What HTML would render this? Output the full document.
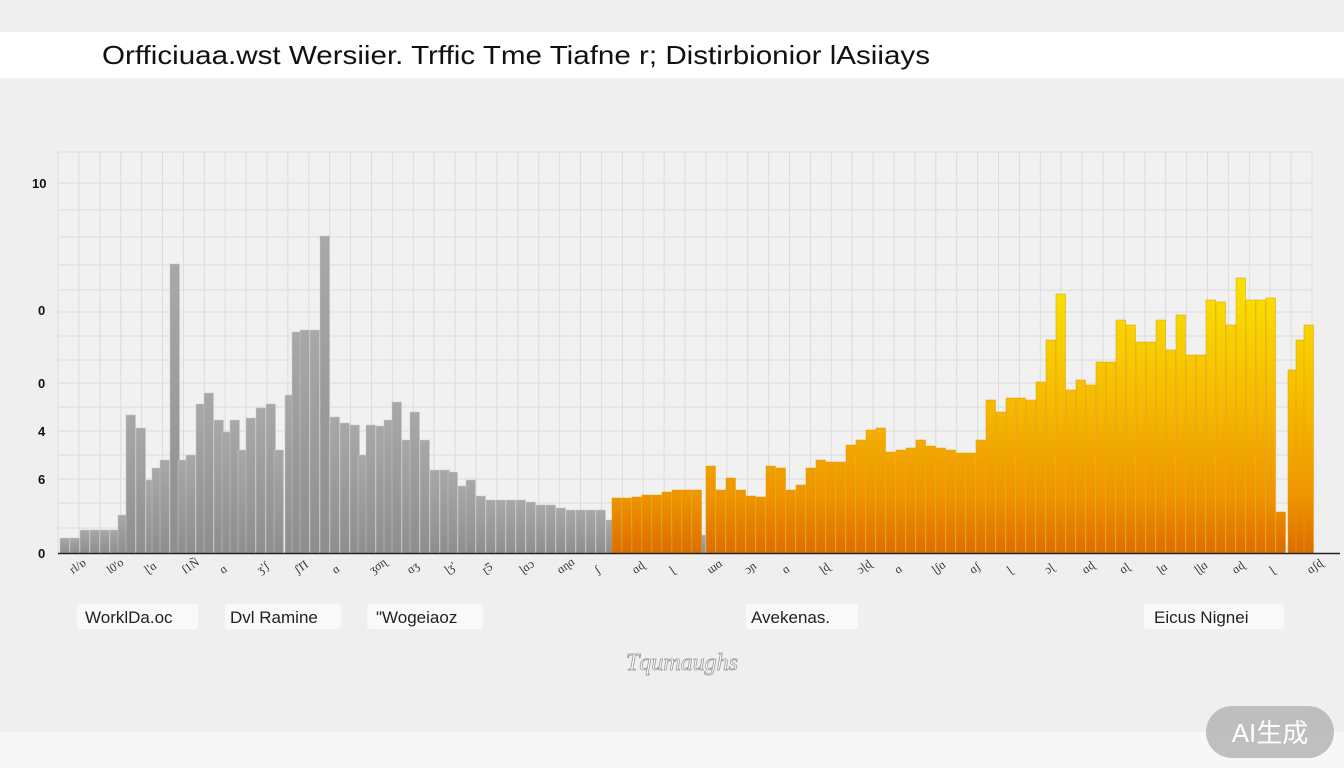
<!DOCTYPE html>
<html><head><meta charset="utf-8"><style>
html,body{margin:0;padding:0;width:1344px;height:768px;overflow:hidden;background:#efefef;font-family:"Liberation Sans",sans-serif}
</style></head><body>
<svg id="s" width="1344" height="768" xmlns="http://www.w3.org/2000/svg">
<defs>
<linearGradient id="g" x1="0" y1="0" x2="0" y2="1"><stop offset="0" stop-color="#a8a8a8"/><stop offset="1" stop-color="#8e8e8e"/></linearGradient>
<linearGradient id="o" gradientUnits="userSpaceOnUse" x1="0" y1="290" x2="0" y2="553"><stop offset="0" stop-color="#f8e000"/><stop offset="0.45" stop-color="#f6b800"/><stop offset="0.8" stop-color="#ee9200"/><stop offset="1" stop-color="#dc6c00"/></linearGradient>
</defs>
<rect x="0" y="0" width="1344" height="768" fill="#efefef"/>
<rect x="0" y="32" width="1344" height="46" fill="#ffffff"/>
<rect x="0" y="732" width="1344" height="36" fill="#f7f7f7"/>
<text x="102" y="64" font-size="26" fill="#111" textLength="828" lengthAdjust="spacingAndGlyphs">Orfficiuaa.wst Wersiier. Trffic Tme Tiafne r; Distirbionior lAsiiays</text>
<rect x="58" y="152" width="1255" height="401" fill="#f1f1f1"/>
<g id="grid" stroke="#dcdcdc" stroke-width="1"></g>
<g font-size="13" font-weight="bold" fill="#111">
<text x="32" y="188">10</text><text x="38" y="315">0</text><text x="38" y="388">0</text><text x="38" y="436">4</text><text x="38" y="484">6</text><text x="38" y="558">0</text>
</g>
<g id="bars"></g>
<line x1="58" y1="553.5" x2="1340" y2="553.5" stroke="#222" stroke-width="1.5"/>
<g id="ticks" font-size="12" fill="#333" font-family="Liberation Serif,serif"></g>
<g font-size="17" fill="#222">
<rect x="77" y="604" width="121" height="25" rx="3" fill="#f9f9f9"/><text x="85" y="623">WorklDa.oc</text>
<rect x="225" y="604" width="116" height="25" rx="3" fill="#f9f9f9"/><text x="230" y="623">Dvl Ramine</text>
<rect x="367" y="604" width="116" height="25" rx="3" fill="#f9f9f9"/><text x="376" y="623">"Wogeiaoz</text>
<rect x="746" y="604" width="112" height="25" rx="3" fill="#f9f9f9"/><text x="751" y="623">Avekenas.</text>
<rect x="1144" y="604" width="140" height="25" rx="3" fill="#f9f9f9"/><text x="1154" y="623">Eicus Nignei</text>
</g>
<text x="682" y="670" font-size="24" text-anchor="middle" fill="#fff" stroke="#999" stroke-width="0.8" font-family="Liberation Serif,serif" font-style="italic">Tqumaughs</text>
<rect x="1206" y="706" width="128" height="52" rx="26" fill="#b5b5b5" opacity="0.85"/>
<text x="1270" y="742" font-size="26" text-anchor="middle" fill="#fff" font-family="Liberation Sans,Noto Sans CJK SC,sans-serif">AI生成</text>
</svg>
<script>
var NS="http://www.w3.org/2000/svg";
function el(t,a,p){var e=document.createElementNS(NS,t);for(var k in a)e.setAttribute(k,a[k]);document.getElementById(p).appendChild(e);return e;}
for(var x=58;x<=1313;x+=20.9)el("line",{x1:x,y1:152,x2:x,y2:553},"grid");
[152,183,210,237,265,290,312,336,360,383,407,431,455,479,503,528].forEach(function(y){el("line",{x1:58,y1:y,x2:1313,y2:y},"grid");});
var gray=[[60,538],[70,538],[80,530],[90,530],[100,530],[110,530],[118,515],[126,415],[136,428],[146,480],[152,468],[160,460],[170,264],[178,460],[186,455],[196,404],[204,393],[214,420],[222,432],[230,420],[238,450],[246,418],[256,408],[266,404],[274,450],[285,395],[292,332],[300,330],[310,330],[320,236],[330,417],[340,423],[350,425],[358,455],[366,425],[376,426],[384,420],[392,402],[402,440],[410,412],[420,440],[430,470],[440,470],[448,472],[458,486],[466,480],[476,496],[486,500],[496,500],[506,500],[516,500],[526,502],[536,505],[546,505],[556,508],[566,510],[576,510],[586,510],[596,510],[606,520],[616,528],[626,530],[636,532],[646,532],[656,533],[666,533],[676,533],[686,533],[696,535]];
var org=[[612,498],[622,498],[632,497],[642,495],[652,495],[662,492],[672,490],[682,490],[692,490],[706,466],[716,490],[726,478],[736,490],[746,496],[756,497],[766,466],[776,468],[786,490],[796,485],[806,468],[816,460],[826,462],[836,462],[846,445],[856,440],[866,430],[876,428],[886,452],[896,450],[906,448],[916,440],[926,446],[936,448],[946,450],[956,453],[966,453],[976,440],[986,400],[996,412],[1006,398],[1016,398],[1026,400],[1036,382],[1046,340],[1056,294],[1066,390],[1076,380],[1086,385],[1096,362],[1106,362],[1116,320],[1126,325],[1136,342],[1146,342],[1156,320],[1166,350],[1176,315],[1186,355],[1196,355],[1206,300],[1216,302],[1226,325],[1236,278],[1246,300],[1256,300],[1266,298],[1276,512],[1288,370],[1296,340],[1304,325]];
gray.forEach(function(b){el("rect",{x:b[0],y:b[1],width:9.5,height:553-b[1],fill:"url(#g)",stroke:"#c8c8c8","stroke-width":0.5},"bars");});
org.forEach(function(b){el("rect",{x:b[0],y:b[1],width:9.5,height:553-b[1],fill:"url(#o)",stroke:"#e0a000","stroke-width":0.5},"bars");});
var lbl=["rl/ɒ","Ɩ0'o","ɭ'ɑ","ſ1Ñ","ɑ","ʒ'ʃ","ʃΊΊ","ɑ","ʒσɳ","ɑʒ","ɭʒ'","ɽƼ","ɭɑɔ","ɑɳɑ","ʃ","ɑɖ","ɭ","ɯɑ","ɔɲ","ɑ","ɭɖ","ɔɭɖ","ɑ","ɭʃɑ","ɑʃ","ɭ","ɔɭ","ɑɖ","ɑɭ","ɭɑ","ɭɭɑ","ɑɖ","ɭ","ɑʃɖ","ɑ","ɭɑ","ɔɭ","ɑɖɖ","ɭ"];
for(var i=0;i<34;i++){var x=70+i*37.5;var t=el("text",{x:x,y:575,transform:"rotate(-35 "+x+" 570)"},"ticks");t.textContent=lbl[i%lbl.length];}
</script>
</body></html>
